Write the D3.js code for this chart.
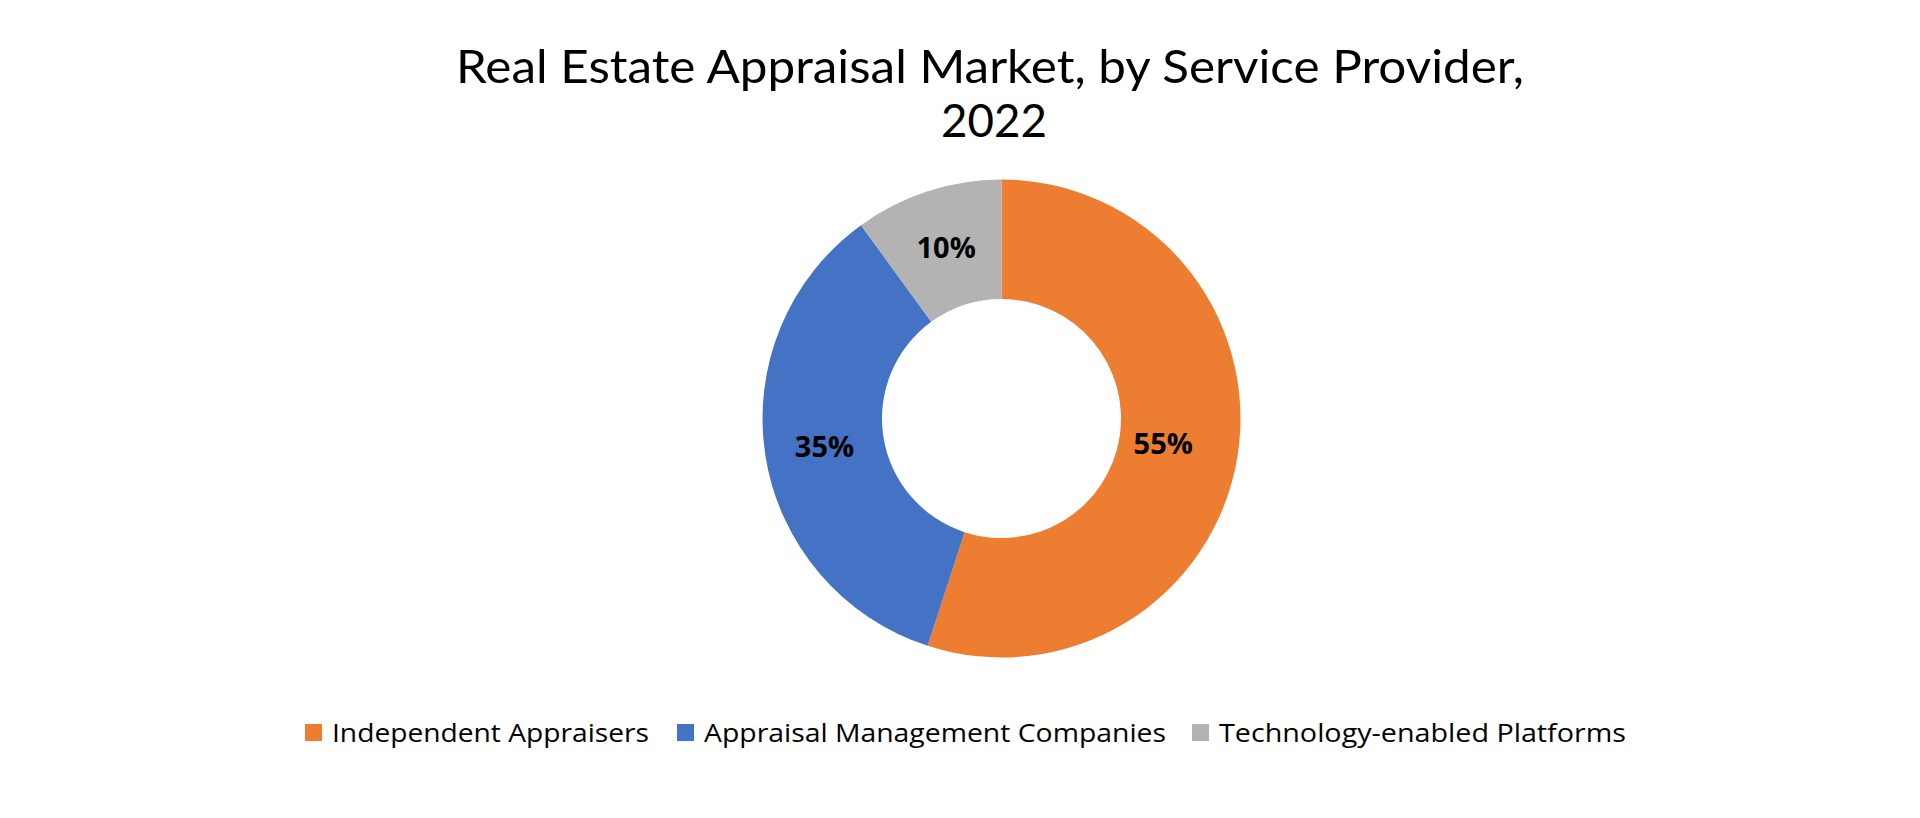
<!DOCTYPE html>
<html>
<head>
<meta charset="utf-8">
<script src="https://cdn.jsdelivr.net/npm/d3@7"></script>
<style>
  html, body { margin: 0; padding: 0; background: #fff; }
  svg { display: block; }
</style>
</head>
<body>
<svg id="chart" width="1920" height="818"></svg>
<script>
const categories = ["Independent Appraisers", "Appraisal Management Companies", "Technology-enabled Platforms"];
const values = [55, 35, 10];
const labels = ["55%", "35%", "10%"];
const colors = ["#ED7D31", "#4472C4", "#B3B3B3"];
const titleLines = ["Real Estate Appraisal Market, by Service Provider,", "2022"];

const svg = d3.select("#chart");
const W = 1920, H = 818;
const cx = 1001.5, cy = 418.5, rOuter = 239, rInner = 119.5;

svg.append("rect").attr("width", W).attr("height", H).attr("fill", "#fff");

// Title
const title = svg.append("g").attr("font-family", "Lato, 'Open Sans', sans-serif")
  .attr("font-size", 47).attr("fill", "#000").attr("text-anchor", "middle");
title.append("text").attr("x", 990).attr("y", 83)
  .attr("textLength", 1068).attr("lengthAdjust", "spacingAndGlyphs").text(titleLines[0]);
title.append("text").attr("x", 994).attr("y", 137)
  .attr("textLength", 106).attr("lengthAdjust", "spacingAndGlyphs").text(titleLines[1]);

// Donut
const pie = d3.pie().sort(null).value(d => d);
const arcs = pie(values);
const arc = d3.arc().innerRadius(rInner).outerRadius(rOuter);
const labelArc = d3.arc().innerRadius(rInner).outerRadius(rOuter - 31);
const g = svg.append("g").attr("transform", `translate(${cx},${cy})`);
g.selectAll("path").data(arcs).join("path")
  .attr("d", arc).attr("fill", (d, i) => colors[i]);

g.selectAll("text.lbl").data(arcs).join("text")
  .attr("class", "lbl")
  .attr("transform", d => { const c = (d.endAngle - d.startAngle > Math.PI ? labelArc : arc).centroid(d); return `translate(${c[0]},${c[1]})`; })
  .attr("text-anchor", "middle").attr("dy", "0.35em")
  .attr("font-family", "'Open Sans', 'Noto Sans', sans-serif")
  .attr("font-weight", "bold").attr("font-size", 29).attr("fill", "#000")
  .text((d, i) => labels[i]);

// Legend
const legendX = [305, 677, 1192];
const legendTextW = [317, 462, 407];
const legend = svg.append("g").attr("font-family", "'Open Sans', 'Noto Sans', sans-serif")
  .attr("font-size", 26).attr("fill", "#000");
categories.forEach((c, i) => {
  legend.append("rect").attr("x", legendX[i]).attr("y", 724).attr("width", 17).attr("height", 17).attr("fill", colors[i]);
  legend.append("text").attr("x", legendX[i] + 27).attr("y", 742)
    .attr("textLength", legendTextW[i]).attr("lengthAdjust", "spacingAndGlyphs").text(c);
});
</script>
</body>
</html>
